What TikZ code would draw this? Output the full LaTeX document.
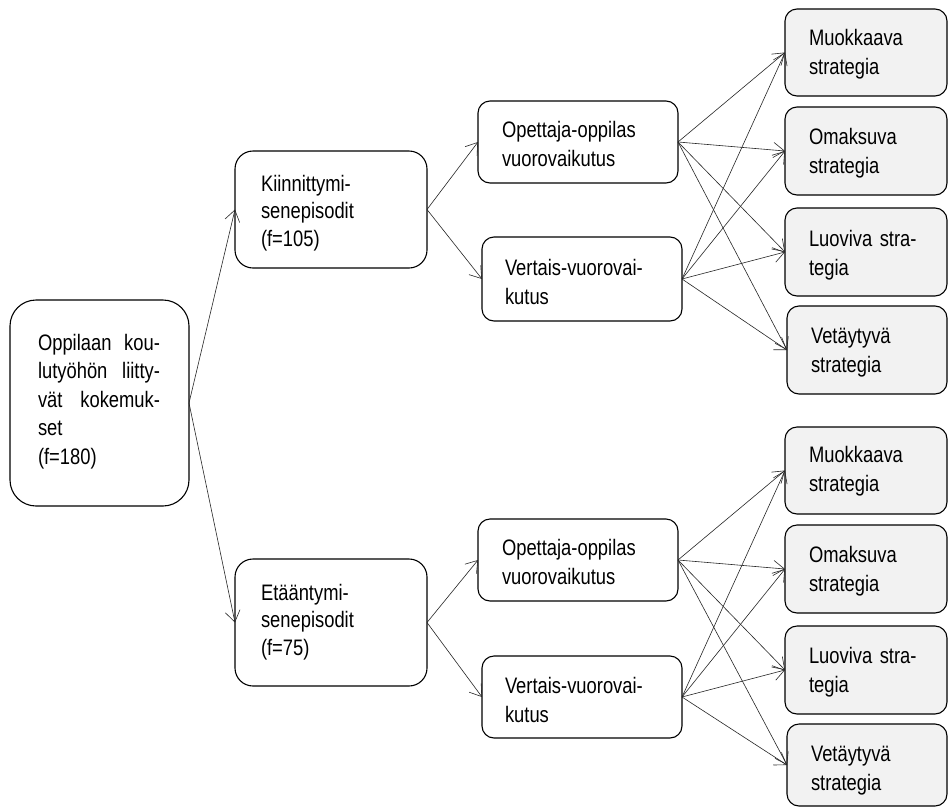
\documentclass[tikz,border=0pt]{standalone}
\usepackage{fontspec}
\setmainfont{Liberation Sans}[FakeStretch=0.82]
\usetikzlibrary{arrows.meta}
\definecolor{stratfill}{RGB}{242,242,242}
\begin{document}
\begin{tikzpicture}[x=1pt,y=-1pt,
  frame/.style 2 args={draw=black, line width=1.1pt, fill=white, inner sep=0pt, outer sep=0pt,
    minimum width=#1pt, minimum height=#2pt},
  bigbox/.style 2 args={frame={#1}{#2}, rounded corners=26pt},
  midbox/.style 2 args={frame={#1}{#2}, rounded corners=18pt},
  smallbox/.style 2 args={frame={#1}{#2}, rounded corners=12pt},
  stratbox/.style 2 args={frame={#1}{#2}, rounded corners=12pt, fill=stratfill},
  label/.style={anchor=base west, inner sep=0pt, outer sep=0pt, align=left,
    font=\fontsize{22.4}{29}\selectfont},
  link/.style={draw=black!85, line width=0.6pt,
    -{Straight Barb[length=11pt,width=15pt,line width=0.6pt]}},
]
\useasboundingbox[fill=white] (0,0) rectangle (948,809);

% boxes
\node[bigbox={179}{206}] (root) at (99.5,403) {};
\node[midbox={192}{117}] (kin) at (331,209.5) {};
\node[midbox={192}{127}] (eta) at (331,622.5) {};
\node[smallbox={200}{82}] (op1) at (578,142) {};
\node[smallbox={200}{84}] (ve1) at (582,279) {};
\node[smallbox={200}{82}] (op2) at (578,560) {};
\node[smallbox={200}{82}] (ve2) at (582,697) {};
\node[stratbox={162}{87}] (m1) at (866,52.5) {};
\node[stratbox={162}{88}] (o1) at (866,151) {};
\node[stratbox={162}{88}] (l1) at (866,252) {};
\node[stratbox={160}{88}] (v1) at (867,350) {};
\node[stratbox={162}{87}] (m2) at (866,470.5) {};
\node[stratbox={162}{88}] (o2) at (866,569) {};
\node[stratbox={162}{88}] (l2) at (866,670) {};
\node[stratbox={160}{82}] (v2) at (867,765) {};

% texts
\node[label, text width=122pt, align=justify, font=\fontsize{22.4}{28.5}\selectfont] (troot) at (38,350)
  {Oppilaan kou-\linebreak lutyöhön liitty-\linebreak vät kokemuk-\linebreak set\\(f=180)};
\node[label, text width=160pt, font=\fontsize{22.4}{27.5}\selectfont] (tkin) at (261,191) {Kiinnittymi-\\senepisodit\\(f=105)};
\node[label, text width=160pt, font=\fontsize{22.4}{27.5}\selectfont] (teta) at (261,600) {Etääntymi-\\senepisodit\\(f=75)};
\node[label, text width=170pt] (top1) at (502,137) {Opettaja-oppilas\\vuorovaikutus};
\node[label, text width=170pt] (tve1) at (505,275) {Vertais-vuorovai-\\kutus};
\node[label, text width=170pt] (top2) at (502,555) {Opettaja-oppilas\\vuorovaikutus};
\node[label, text width=170pt] (tve2) at (505,693) {Vertais-vuorovai-\\kutus};
\node[label, text width=130pt] (tm1) at (809,45) {Muokkaava\\strategia};
\node[label, text width=130pt] (to1) at (809,144) {Omaksuva\\strategia};
\node[label, text width=130pt] (tl1) at (809,246) {Luoviva stra-\\tegia};
\node[label, text width=130pt] (tv1) at (811,343) {Vetäytyvä\\strategia};
\node[label, text width=130pt] (tm2) at (809,462) {Muokkaava\\strategia};
\node[label, text width=130pt] (to2) at (809,562) {Omaksuva\\strategia};
\node[label, text width=130pt] (tl2) at (809,663) {Luoviva stra-\\tegia};
\node[label, text width=130pt] (tv2) at (811,761) {Vetäytyvä\\strategia};

% connectors
\draw[link] (root.east) -- (kin.west);
\draw[link] (root.east) -- (eta.west);
\draw[link] (kin.east) -- (op1.west);
\draw[link] (kin.east) -- (ve1.west);
\draw[link] (eta.east) -- (op2.west);
\draw[link] (eta.east) -- (ve2.west);
\foreach \s in {op1,ve1} {
  \foreach \t in {m1,o1,l1,v1} { \draw[link] (\s.east) -- (\t.west); }
}
\foreach \s in {op2,ve2} {
  \foreach \t in {m2,o2,l2,v2} { \draw[link] (\s.east) -- (\t.west); }
}
\end{tikzpicture}
\end{document}
